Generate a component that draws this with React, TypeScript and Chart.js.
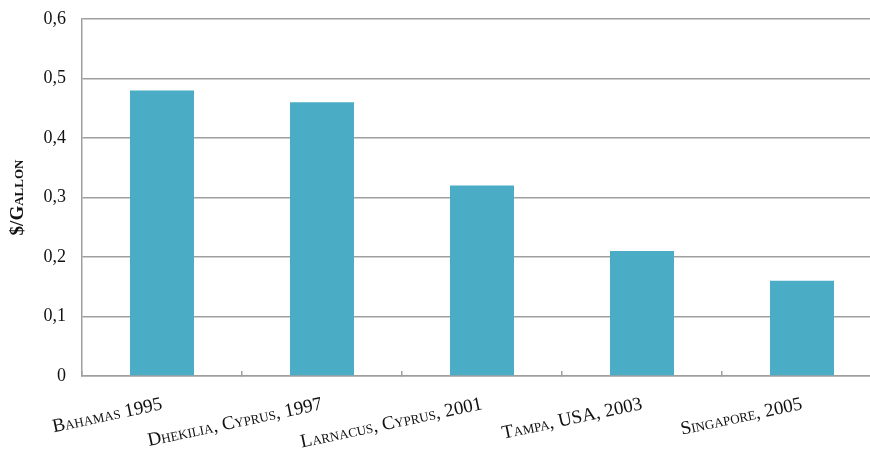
import React, { useEffect, useRef } from "react";
import { Chart, registerables } from "chart.js";

Chart.register(...registerables);

const categories = [
  "Bahamas 1995",
  "Dhekilia, Cyprus, 1997",
  "Larnacus, Cyprus, 2001",
  "Tampa, USA, 2003",
  "Singapore, 2005",
];
const costPerGallon = [0.48, 0.46, 0.32, 0.21, 0.16];
const yTickValues = [0, 0.1, 0.2, 0.3, 0.4, 0.5, 0.6];
const yTitle = "$/Gallon";

const BAR_COLOR = "#4BACC6";
const GRID_COLOR = "#9f9f9f";
const FONT = "'Liberation Serif', serif";

export default function App() {
  const canvasRef = useRef<HTMLCanvasElement | null>(null);

  useEffect(() => {
    if (!canvasRef.current) return;
    const chart = new Chart(canvasRef.current, {
      type: "bar",
      data: {
        labels: categories,
        datasets: [
          {
            data: costPerGallon,
            backgroundColor: BAR_COLOR,
            borderWidth: 0,
            categoryPercentage: 1,
            barPercentage: 0.4,
          },
        ],
      },
      options: {
        animation: false,
        responsive: true,
        maintainAspectRatio: false,
        layout: { padding: { top: 19, right: 8, left: 0, bottom: 0 } },
        plugins: { legend: { display: false }, tooltip: { enabled: false } },
        scales: {
          x: {
            grid: {
              display: true,
              offset: true,
              drawOnChartArea: false,
              drawTicks: true,
              tickLength: -5,
              color: GRID_COLOR,
              lineWidth: 1.5,
            },
            border: { display: true, color: GRID_COLOR, width: 1.5 },
            ticks: {
              autoSkip: false,
              minRotation: 12,
              maxRotation: 12,
              padding: 22,
              color: "#111",
              font: { family: FONT, size: 19, weight: "small-caps" as any },
            },
            afterFit: (scale: any) => {
              scale.height = 77;
            },
          },
          y: {
            min: 0,
            max: 0.6,
            afterBuildTicks: (scale: any) => {
              scale.ticks = yTickValues.map((v) => ({ value: v }));
            },
            grid: { color: GRID_COLOR, lineWidth: 1.5, drawTicks: false },
            border: { display: true, color: GRID_COLOR, width: 1.5 },
            ticks: {
              padding: 16,
              color: "#111",
              font: { family: FONT, size: 18 },
              callback: (v: any) => (Number(v) === 0 ? "0" : Number(v).toFixed(1).replace(".", ",")),
            },
            title: {
              display: true,
              text: yTitle,
              color: "#111",
              padding: { top: 7, bottom: 0 },
              font: { family: FONT, size: 19, weight: "small-caps bold" as any },
            },
            afterFit: (scale: any) => {
              scale.width = 82;
              scale.paddingTop = 0;
              scale.paddingBottom = 0;
            },
          },
        },
      },
    });
    return () => chart.destroy();
  }, []);

  return (
    <div
      style={{
        position: "fixed",
        left: 0,
        top: 0,
        width: 870,
        height: 453,
        overflow: "hidden",
        background: "#fff",
      }}
    >
      <div style={{ position: "relative", width: 890, height: 453 }}>
        <canvas ref={canvasRef} />
      </div>
    </div>
  );
}
